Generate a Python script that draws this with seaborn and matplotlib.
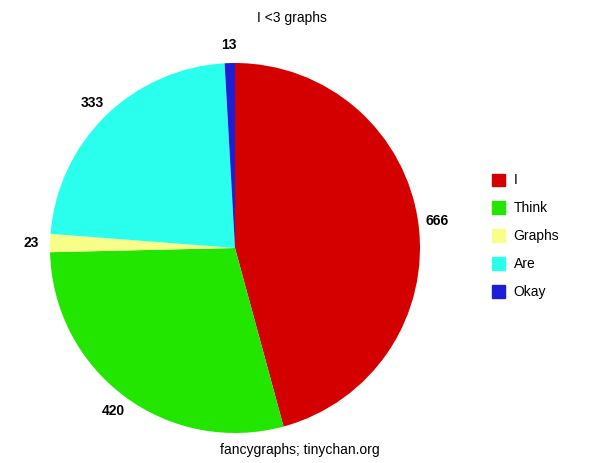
import matplotlib
matplotlib.use("Agg")
import matplotlib.pyplot as plt
import matplotlib.patches as mpatches
import seaborn as sns

categories = ["I", "Think", "Graphs", "Are", "Okay"]
values = [666, 420, 23, 333, 13]
colors = ["#d40000", "#22e600", "#f7ff88", "#2affee", "#1e1ed6"]
title = "I <3 graphs"
footer = "fancygraphs; tinychan.org"

sns.set_theme(style="white")
plt.rcParams['font.family'] = ['Liberation Sans', 'DejaVu Sans']
plt.rcParams['text.color'] = 'black'

fig = plt.figure(figsize=(6, 4.63), dpi=100)
ax = fig.add_axes([50/600, 30/463, 370/600, 370/463])
wedges, texts = ax.pie(values, labels=[str(v) for v in values], colors=colors,
                       startangle=90, counterclock=False, labeldistance=1.1,
                       wedgeprops=dict(linewidth=0),
                       textprops=dict(fontsize=10, fontweight='bold', color='black'))
for t in texts:
    t.set_ha('center')
    t.set_va('center')
ax.set_xlim(-1, 1)
ax.set_ylim(-1, 1)
ax.set_aspect('equal')

fig.text(292/600, 1 - 18/463, title, ha='center', va='center', fontsize=10, color='black')
fig.text(300/600, 1 - 450/463, footer, ha='center', va='center', fontsize=10, color='black')

handles = [mpatches.Patch(color=c, label=l) for c, l in zip(colors, categories)]
fig.legend(handles=handles, loc='upper left', bbox_to_anchor=(479/600, 1 - 161/463),
           frameon=False, fontsize=10, handlelength=1.0, handleheight=1.0,
           handletextpad=0.6, labelspacing=1.0, labelcolor='black')

fig.savefig("out.png", dpi=100)
